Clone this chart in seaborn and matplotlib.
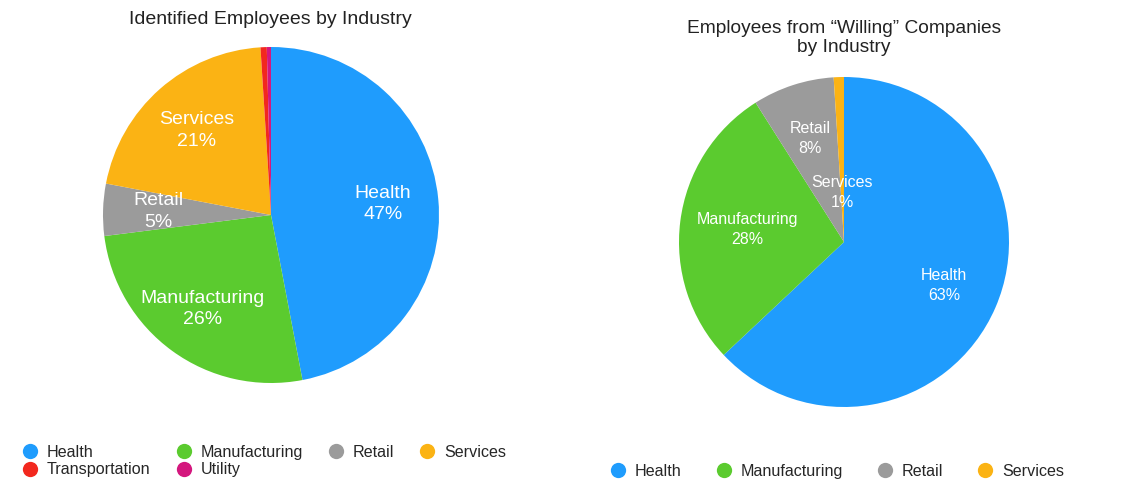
import matplotlib
matplotlib.use("Agg")
import matplotlib.pyplot as plt
import seaborn as sns
import numpy as np
from matplotlib.lines import Line2D

sns.set_theme(style="white")
plt.rcParams['font.family'] = ['Liberation Sans', 'DejaVu Sans']

# Shares of employees by industry (percent)
left_industries = ["Health", "Manufacturing", "Retail", "Services", "Transportation", "Utility"]
left_share = [47, 26, 5, 21, 0.6, 0.4]

right_industries = ["Health", "Manufacturing", "Retail", "Services"]
right_share = [63, 28, 8, 1]

industry_colors = {
    "Health": "#1F9CFD",
    "Manufacturing": "#5BCB2F",
    "Retail": "#9B9B9B",
    "Services": "#FBB314",
    "Transportation": "#F2281E",
    "Utility": "#D4177E",
}

# Radial position of each in-slice label (None = no label)
left_label_dist = [0.67, 0.69, 0.67, 0.67, None, None]
right_label_dist = [0.66, 0.59, 0.66, 0.30]

W, H = 1122, 490
fig = plt.figure(figsize=(W / 100, H / 100), dpi=100)
fig.patch.set_facecolor("white")


def pie_axes(cx, cy, r):
    ax = fig.add_axes([(cx - r) / W, (H - cy - r) / H, 2 * r / W, 2 * r / H])
    ax.set_aspect("equal")
    return ax


def draw_pie(ax, names, values, dists, fontsize, spacing):
    palette = sns.color_palette([industry_colors[n] for n in names])
    wedges, _ = ax.pie(values, colors=palette, startangle=90, counterclock=False,
                       wedgeprops=dict(linewidth=0), radius=1)
    total = float(sum(values))
    for w, name, v, d in zip(wedges, names, values, dists):
        if d is None:
            continue
        ang = np.deg2rad((w.theta1 + w.theta2) / 2)
        ax.text(d * np.cos(ang), d * np.sin(ang), f"{name}\n{v / total * 100:.0f}%",
                ha="center", va="center", color="white", fontsize=fontsize,
                linespacing=spacing)
    ax.set_xlim(-1, 1)
    ax.set_ylim(-1, 1)
    ax.axis("off")


ax_l = pie_axes(271, 215, 168)
draw_pie(ax_l, left_industries, left_share, left_label_dist, 14.0, 1.32)

ax_r = pie_axes(844, 242, 165)
draw_pie(ax_r, right_industries, right_share, right_label_dist, 11.5, 1.4)

fig.text(270 / W, 1 - 19 / H, "Identified Employees by Industry", ha="center", va="center",
         fontsize=14, color="#222222")
fig.text(844 / W, 1 - 38 / H, "Employees from \u201cWilling\u201d Companies\nby Industry",
         ha="center", va="center", fontsize=13.8, color="#222222", linespacing=1.17)


def legend_handle(name):
    return Line2D([0], [0], marker="o", linestyle="none", markersize=11,
                  markerfacecolor=industry_colors[name], markeredgewidth=0)


# Left legend: column-major order so rows read Health/Manufacturing/Retail/Services, then Transportation/Utility
left_order = ["Health", "Transportation", "Manufacturing", "Utility", "Retail", "Services"]
fig.legend([legend_handle(n) for n in left_order], left_order,
           loc="upper left", bbox_to_anchor=(22 / W, 1 - 445 / H), ncol=4, frameon=False,
           fontsize=11.6, handlelength=1.0, handletextpad=0.55, columnspacing=1.55,
           labelspacing=0.15, borderaxespad=0, borderpad=0)

fig.legend([legend_handle(n) for n in right_industries], right_industries,
           loc="upper left", bbox_to_anchor=(610 / W, 1 - 464 / H), ncol=4, frameon=False,
           fontsize=11.6, handlelength=1.0, handletextpad=0.55, columnspacing=2.1,
           borderaxespad=0, borderpad=0)

fig.savefig("out.png", dpi=100, facecolor="white")
